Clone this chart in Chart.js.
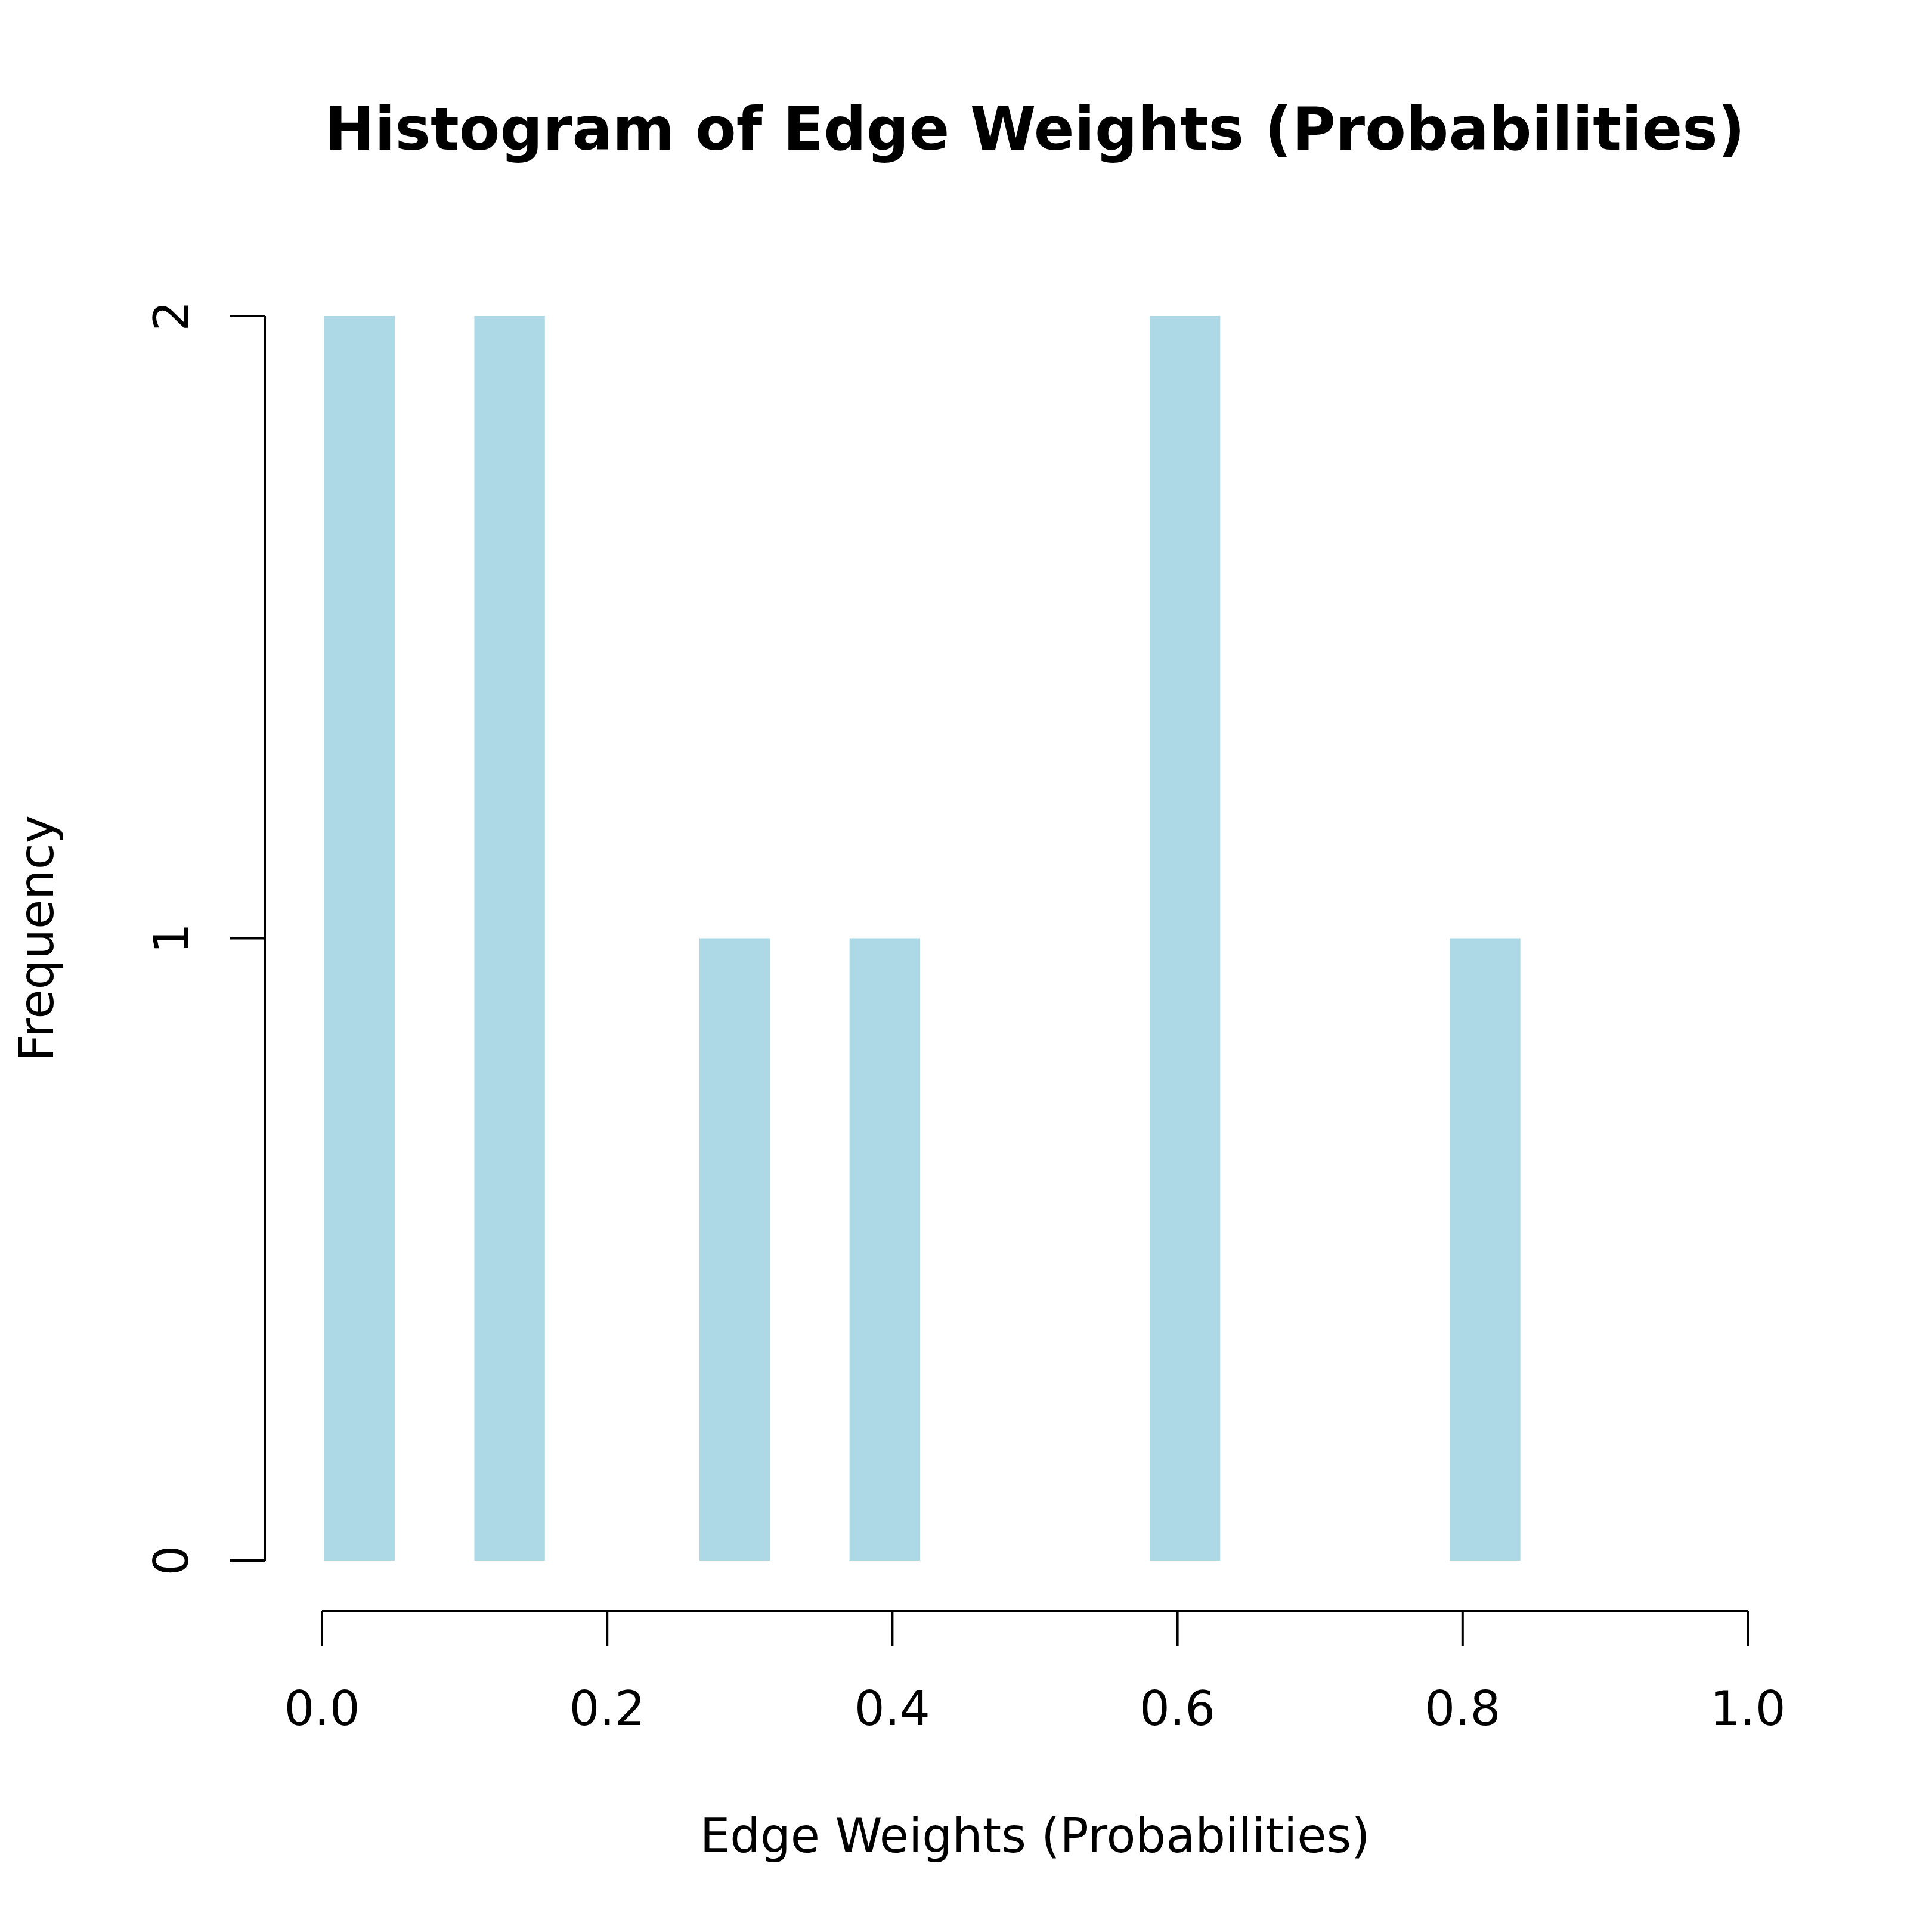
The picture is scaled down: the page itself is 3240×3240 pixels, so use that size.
<!DOCTYPE html>
<html>
<head>
<meta charset="utf-8">
<script src="https://cdn.jsdelivr.net/npm/chart.js@4"></script>
<style>
  html, body { margin: 0; padding: 0; background: #fff; }
  #wrap { width: 3240px; height: 3240px; }
</style>
</head>
<body>
<div id="wrap"><canvas id="c"></canvas></div>
<script>
// Histogram bins: 19 equal bins over [0, 1]
const binCount = 19;
const binCounts = [2, 0, 2, 0, 0, 1, 0, 1, 0, 0, 0, 2, 0, 0, 0, 1, 0, 0, 0];
const xTicks = [0, 0.2, 0.4, 0.6, 0.8, 1.0];
const yTicks = [0, 1, 2];
const titleText = 'Histogram of Edge Weights (Probabilities)';
const xLabel = 'Edge Weights (Probabilities)';
const yLabel = 'Frequency';

const points = binCounts.map((v, i) => ({ x: (i + 0.5) / binCount, y: v }));
const FONT = 'DejaVu Sans';

// R-style detached axes drawn from the chart scales
const rAxes = {
  id: 'rAxes',
  afterDraw(chart) {
    const ctx = chart.ctx;
    const xs = chart.scales.x, ys = chart.scales.y;
    ctx.save();
    ctx.strokeStyle = '#000';
    ctx.fillStyle = '#000';
    ctx.lineWidth = 4;

    // x axis
    const xAxisY = ys.getPixelForValue(0) + 85;
    ctx.beginPath();
    ctx.moveTo(xs.getPixelForValue(xTicks[0]), xAxisY);
    ctx.lineTo(xs.getPixelForValue(xTicks[xTicks.length - 1]), xAxisY);
    xTicks.forEach(t => {
      const px = xs.getPixelForValue(t);
      ctx.moveTo(px, xAxisY);
      ctx.lineTo(px, xAxisY + 58);
    });
    ctx.stroke();
    ctx.font = `80px "${FONT}"`;
    ctx.textAlign = 'center';
    ctx.textBaseline = 'middle';
    xTicks.forEach(t => ctx.fillText(t.toFixed(1), xs.getPixelForValue(t), xAxisY + 170));

    // y axis
    const yAxisX = xs.getPixelForValue(0) - 96;
    ctx.beginPath();
    ctx.moveTo(yAxisX, ys.getPixelForValue(yTicks[0]));
    ctx.lineTo(yAxisX, ys.getPixelForValue(yTicks[yTicks.length - 1]));
    yTicks.forEach(t => {
      const py = ys.getPixelForValue(t);
      ctx.moveTo(yAxisX, py);
      ctx.lineTo(yAxisX - 58, py);
    });
    ctx.stroke();
    yTicks.forEach(t => {
      ctx.save();
      ctx.translate(yAxisX - 170 + 20, ys.getPixelForValue(t));
      ctx.rotate(-Math.PI / 2);
      ctx.fillText(String(t), 0, 0);
      ctx.restore();
    });

    // axis titles
    const midX = (chart.chartArea.left + chart.chartArea.right) / 2;
    const midY = (chart.chartArea.top + chart.chartArea.bottom) / 2;
    ctx.fillText(xLabel, midX, 3085);
    ctx.save();
    ctx.translate(68, midY);
    ctx.rotate(-Math.PI / 2);
    ctx.fillText(yLabel, 0, 0);
    ctx.restore();

    // title
    ctx.font = `bold 100px "${FONT}"`;
    ctx.fillText(titleText, midX, 225);
    ctx.restore();
  }
};

new Chart(document.getElementById('c'), {
  type: 'bar',
  data: {
    datasets: [{
      data: points,
      backgroundColor: '#ADD8E6',
      borderWidth: 0,
      barPercentage: 0.94,
      categoryPercentage: 1.0
    }]
  },
  options: {
    responsive: true,
    maintainAspectRatio: false,
    animation: false,
    devicePixelRatio: 1,
    layout: { padding: { left: 540, right: 309, top: 530, bottom: 623 } },
    plugins: { legend: { display: false }, tooltip: { enabled: false } },
    scales: {
      x: { type: 'linear', min: 0, max: 1, offset: false, display: false },
      y: { min: 0, max: 2, display: false }
    }
  },
  plugins: [rAxes]
});
</script>
</body>
</html>
